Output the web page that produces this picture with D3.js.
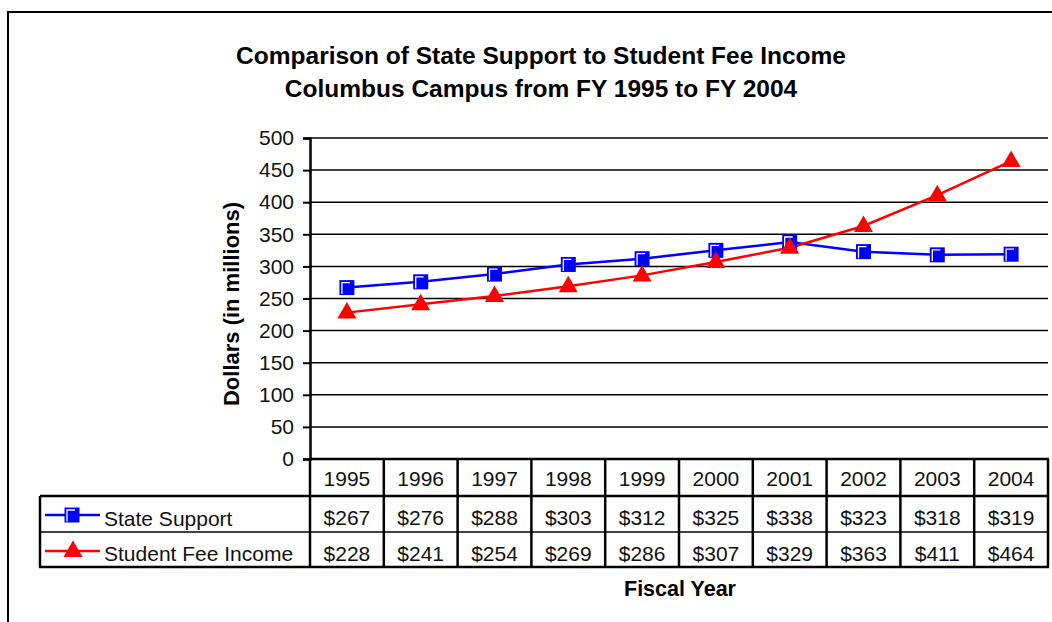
<!DOCTYPE html>
<html>
<head>
<meta charset="utf-8">
<style>
  body { margin: 0; background: #fff; }
  svg { display: block; font-family: "Liberation Sans", Arial, sans-serif; }
</style>
<title>State Support vs Student Fee Income</title>
</head>
<body>
<script src="https://cdn.jsdelivr.net/npm/d3@7"></script>
<script>
// data (dollars in millions)
var years = ["1995","1996","1997","1998","1999","2000","2001","2002","2003","2004"];
var stateSupport = [267,276,288,303,312,325,338,323,318,319];
var feeIncome = [228,241,254,269,286,307,329,363,411,464];
var yTicks = [0,50,100,150,200,250,300,350,400,450,500];
var seriesNames = ["State Support","Student Fee Income"];

var W = 1052, H = 622;
var plotL = 310, plotR = 1048, plotT = 138, plotB = 459;
var legLeft = 40;
var rowY = [459, 496, 532, 567];

var svg = d3.select("body").append("svg")
  .attr("width", W).attr("height", H);

// outer frame, cut by the window on the right and bottom
svg.append("rect")
  .attr("x", 8).attr("y", 12).attr("width", 1200).attr("height", 800)
  .attr("fill", "none").attr("stroke", "#000").attr("stroke-width", 2);

var x = d3.scaleBand().domain(years).range([plotL, plotR]).padding(0);
var y = d3.scaleLinear().domain([0, 500]).range([plotB, plotT]);
var cx = function(d, i){ return x(years[i]) + x.bandwidth() / 2; };

// title
var title = svg.append("text")
  .attr("text-anchor", "middle").attr("font-size", 24.5).attr("font-weight", "bold");
title.append("tspan").attr("x", 541).attr("y", 64).text("Comparison of State Support to Student Fee Income");
title.append("tspan").attr("x", 541).attr("y", 97).text("Columbus Campus from FY 1995 to FY 2004");

// gridlines
svg.append("g").selectAll("line")
  .data(yTicks.filter(function(d){ return d > 0; }))
  .enter().append("line")
  .attr("x1", plotL).attr("x2", plotR)
  .attr("y1", function(d){ return y(d); }).attr("y2", function(d){ return y(d); })
  .attr("stroke", "#000").attr("stroke-width", 1.5);

// y axis
var yAxis = d3.axisLeft(y).tickValues(yTicks).tickSize(7).tickPadding(9);
var ya = svg.append("g").attr("transform", "translate(" + plotL + ",0)").call(yAxis);
ya.select(".domain").attr("stroke-width", 2.5);
ya.selectAll(".tick line").attr("stroke-width", 2);
ya.selectAll("text").attr("font-size", 21).attr("font-family", "Liberation Sans, Arial, sans-serif")
  .attr("fill", "#111");

svg.append("text")
  .attr("transform", "translate(239,304) rotate(-90)")
  .attr("text-anchor", "middle").attr("font-size", 22).attr("font-weight", "bold")
  .text("Dollars (in millions)");

// lines
var line = d3.line().x(cx).y(function(d){ return y(d); });
svg.append("path").datum(stateSupport).attr("d", line)
  .attr("fill", "none").attr("stroke", "#0000ff").attr("stroke-width", 2.5);
svg.append("path").datum(feeIncome).attr("d", line)
  .attr("fill", "none").attr("stroke", "#ff0000").attr("stroke-width", 2.5);

function squareMarker(g) {
  g.append("rect").attr("x", -7.5).attr("y", -7.5).attr("width", 15).attr("height", 15)
    .attr("fill", "#0000ff");
  g.append("path").attr("d", "M -5,6.5 L -5,-5 L 3,-5")
    .attr("fill", "none").attr("stroke", "#fff").attr("stroke-width", 1.3);
}
function triMarker(g) {
  g.append("path").attr("d", "M 0,-9.5 L 9.5,7 L -9.5,7 Z").attr("fill", "#ff0000");
}

svg.append("g").selectAll("g").data(stateSupport).enter().append("g")
  .attr("transform", function(d, i){ return "translate(" + cx(d, i) + "," + y(d) + ")"; })
  .each(function(){ squareMarker(d3.select(this)); });
svg.append("g").selectAll("g").data(feeIncome).enter().append("g")
  .attr("transform", function(d, i){ return "translate(" + cx(d, i) + "," + (y(d) - 1) + ")"; })
  .each(function(){ triMarker(d3.select(this)); });

// data table
var tbl = svg.append("g").attr("stroke", "#000").attr("fill", "none");
tbl.append("line").attr("x1", plotL).attr("x2", plotR + 1).attr("y1", rowY[0]).attr("y2", rowY[0]).attr("stroke-width", 2.5);
tbl.append("line").attr("x1", legLeft).attr("x2", plotR + 1).attr("y1", rowY[1]).attr("y2", rowY[1]).attr("stroke-width", 2.5);
tbl.append("line").attr("x1", legLeft).attr("x2", plotR + 1).attr("y1", rowY[2]).attr("y2", rowY[2]).attr("stroke-width", 1.5);
tbl.append("line").attr("x1", legLeft - 1).attr("x2", plotR + 1).attr("y1", rowY[3]).attr("y2", rowY[3]).attr("stroke-width", 2.5);
tbl.append("line").attr("x1", legLeft).attr("x2", legLeft).attr("y1", rowY[1]).attr("y2", rowY[3]).attr("stroke-width", 2.5);
tbl.selectAll(".col").data(years).enter().append("line")
  .attr("x1", function(d){ return x(d); }).attr("x2", function(d){ return x(d); })
  .attr("y1", rowY[0]).attr("y2", rowY[3]).attr("stroke-width", 2.5);
tbl.append("line").attr("x1", plotR).attr("x2", plotR).attr("y1", rowY[0]).attr("y2", rowY[3]).attr("stroke-width", 2.5);

var txt = svg.append("g").attr("font-size", 21).attr("text-anchor", "middle").attr("fill", "#111");
txt.selectAll(".yr").data(years).enter().append("text")
  .attr("x", function(d){ return x(d) + x.bandwidth() / 2; }).attr("y", 486).text(function(d){ return d; });
txt.selectAll(".ss").data(stateSupport).enter().append("text")
  .attr("x", cx).attr("y", 525).text(function(d){ return "$" + d; });
txt.selectAll(".fe").data(feeIncome).enter().append("text")
  .attr("x", cx).attr("y", 561).text(function(d){ return "$" + d; });

// legend keys inside the table
var keyY = [515, 551];
var k1 = svg.append("g");
k1.append("line").attr("x1", 45).attr("x2", 100).attr("y1", keyY[0]).attr("y2", keyY[0])
  .attr("stroke", "#0000ff").attr("stroke-width", 2.5);
squareMarker(k1.append("g").attr("transform", "translate(72," + keyY[0] + ")"));
var k2 = svg.append("g");
k2.append("line").attr("x1", 45).attr("x2", 100).attr("y1", keyY[1]).attr("y2", keyY[1])
  .attr("stroke", "#ff0000").attr("stroke-width", 2.5);
triMarker(k2.append("g").attr("transform", "translate(73," + (keyY[1] - 1) + ")"));
svg.append("g").attr("font-size", 21).attr("fill", "#111").selectAll("text")
  .data(seriesNames).enter().append("text")
  .attr("x", 104).attr("y", function(d, i){ return [526, 561][i]; }).text(function(d){ return d; });

svg.append("text")
  .attr("x", 680).attr("y", 596).attr("text-anchor", "middle")
  .attr("font-size", 21.5).attr("font-weight", "bold").text("Fiscal Year");
</script>
</body>
</html>
